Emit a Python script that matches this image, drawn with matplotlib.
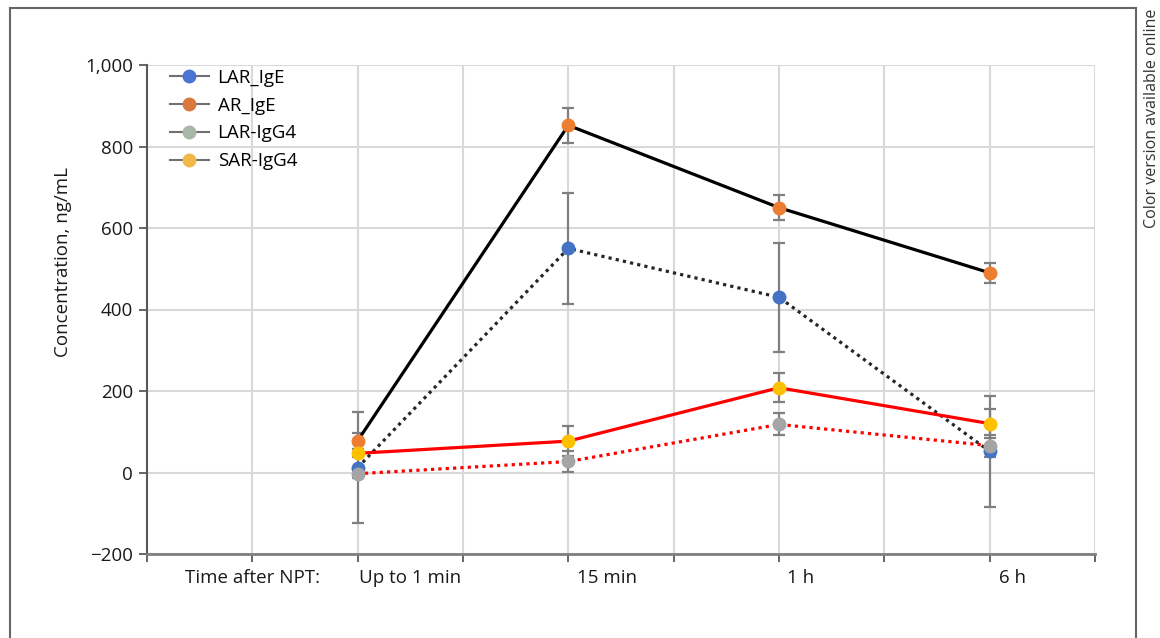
import numpy as np
import matplotlib
matplotlib.use('Agg')
from matplotlib import pyplot as plt
from matplotlib.lines import Line2D
from matplotlib.ticker import FuncFormatter

plt.rcParams['font.family'] = ['Open Sans', 'DejaVu Sans']

# data
time_labels = ['Time after NPT:', 'Up to 1 min', '15 min', '1 h', '6 h']
time_x = [2, 4, 6, 8]

lar_ige = [12, 550, 430, 52]
lar_ige_err = [137, 136, 134, 136]
ar_ige = [78, 852, 650, 490]
ar_ige_err = [20, 43, 31, 25]
lar_igg4 = [-3, 27, 118, 66]
lar_igg4_err = [10, 25, 27, 27]
sar_igg4 = [47, 77, 208, 120]
sar_igg4_err = [10, 36, 35, 36]

series_names = ['LAR_IgE', 'AR_IgE', 'LAR-IgG4', 'SAR-IgG4']

# styling
label_x = [1.0, 2.5, 4.37, 6.2, 8.22]
series = [
    {'y': lar_ige, 'e': lar_ige_err, 'mc': '#4472C4', 'lc': '#262626', 'ls': (0, (1, 1.3)), 'lg': '#4A74D2'},
    {'y': ar_ige, 'e': ar_ige_err, 'mc': '#ED7D31', 'lc': '#000000', 'ls': '-', 'lg': '#D8793E'},
    {'y': lar_igg4, 'e': lar_igg4_err, 'mc': '#A5A5A5', 'lc': '#FF0000', 'ls': (0, (1, 1.3)), 'lg': '#A9B7A9'},
    {'y': sar_igg4, 'e': sar_igg4_err, 'mc': '#FFC000', 'lc': '#FF0000', 'ls': '-', 'lg': '#F0B848'},
]
fs = 13.5

fig = plt.figure(figsize=(11.6, 6.38), dpi=100)
ax = fig.add_axes([147 / 1160, 1 - 554 / 638, (1095 - 147) / 1160, (554 - 65) / 638])

for s in series:
    ax.errorbar(time_x, s['y'], yerr=s['e'], fmt='none', ecolor='#7F7F7F',
                elinewidth=1.6, capsize=4.5, capthick=1.6, zorder=3)
for s in series:
    ax.plot(time_x, s['y'], color=s['lc'], linestyle=s['ls'], linewidth=2.3, zorder=4)
    ax.plot(time_x, s['y'], linestyle='none', marker='o', markersize=9,
            markerfacecolor=s['mc'], markeredgecolor=s['mc'], zorder=5)

ax.set_xlim(0, 9)
ax.set_ylim(-200, 1000)
ax.set_xticks(np.arange(0, 10))
ax.set_xticklabels([])
ax.set_yticks(np.arange(-200, 1001, 200))
ax.yaxis.set_major_formatter(FuncFormatter(lambda v, p: f'{v:,.0f}'.replace('-', '\u2212')))
ax.grid(True, color='#D9D9D9', linewidth=1.5, zorder=0)
ax.set_axisbelow(True)

for side in ['top', 'right']:
    ax.spines[side].set_visible(False)
ax.spines['left'].set_color('#595959')
ax.spines['left'].set_linewidth(1.5)
ax.spines['bottom'].set_color('#7F7F7F')
ax.spines['bottom'].set_linewidth(2)
ax.tick_params(axis='y', length=6, width=1.3, color='#595959', pad=4, labelsize=fs, labelcolor='#1A1A1A')
ax.tick_params(axis='x', length=6, width=1.3, color='#595959')

for lab, lx in zip(time_labels, label_x):
    ax.annotate(lab, xy=(lx, 0), xycoords=('data', 'axes fraction'), xytext=(0, -11),
                textcoords='offset points', ha='center', va='top', fontsize=fs, color='#1A1A1A')

fig.text(63 / 1160, 1 - 262 / 638, 'Concentration, ng/mL', rotation=90, ha='center', va='center',
         fontsize=fs, color='#1A1A1A')

handles = [Line2D([0], [0], color='#707070', linewidth=1.5, marker='o', markersize=9,
                  markerfacecolor=s['lg'], markeredgecolor=s['lg']) for s in series]
ax.legend(handles, series_names, loc='upper left', bbox_to_anchor=(0.024, 0.992), frameon=False,
          fontsize=fs, handlelength=2.1, handletextpad=0.45, labelspacing=0.52,
          borderpad=0, borderaxespad=0)

# outer frame
frame_kw = dict(color='#666666', linewidth=1.5, transform=fig.transFigure)
fig.add_artist(Line2D([10 / 1160, 10 / 1160], [0, 1 - 8 / 638], **frame_kw))
fig.add_artist(Line2D([10 / 1160, 1136 / 1160], [1 - 8 / 638, 1 - 8 / 638], **frame_kw))
fig.add_artist(Line2D([1136 / 1160, 1136 / 1160], [0, 1 - 8 / 638], **frame_kw))

fig.text(1152 / 1160, 1 - 9 / 638, 'Color version available online', rotation=90,
         ha='center', va='top', fontsize=11.5, color='#333333')

plt.savefig('out.png', dpi=100)
